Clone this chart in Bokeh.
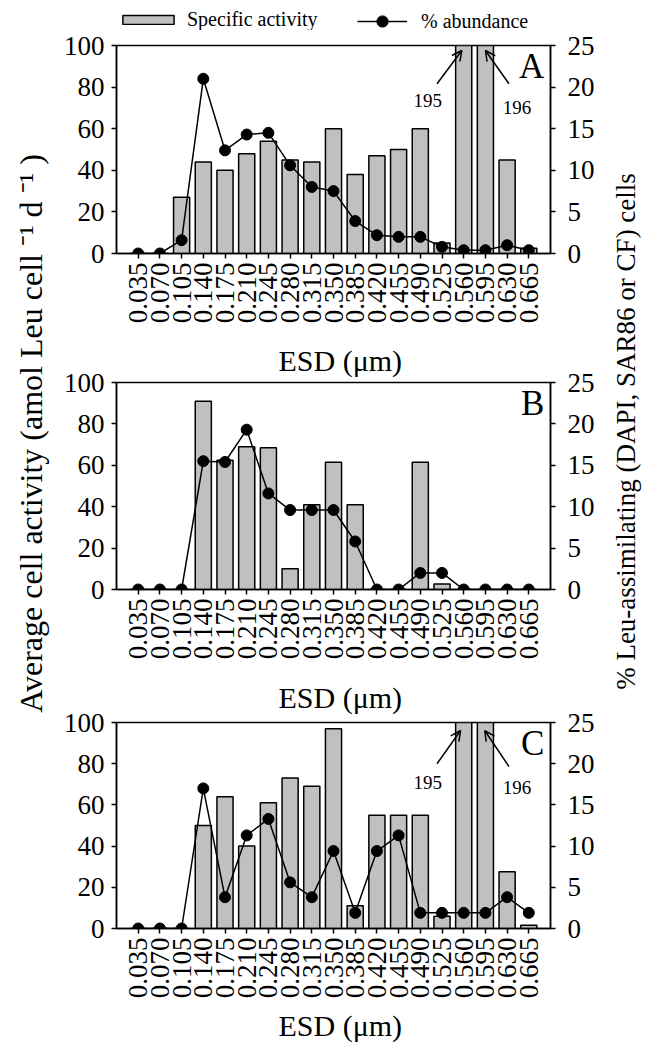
import math
from bokeh.plotting import figure
from bokeh.models import (Range1d, LinearAxis, FixedTicker, PrintfTickFormatter,
                          Legend, LegendItem, Label, Arrow, OpenHead, Title)
from bokeh.layouts import row, column
from bokeh.embed import file_html
from bokeh.resources import INLINE

FONT = "Liberation Serif"

# ---------------- data ----------------
esd = [0.035, 0.070, 0.105, 0.140, 0.175, 0.210, 0.245, 0.280, 0.315, 0.350,
       0.385, 0.420, 0.455, 0.490, 0.525, 0.560, 0.595, 0.630, 0.665]

activity_A = [0, 0, 27, 44, 40, 48, 54, 45, 44, 60, 38, 47, 50, 60, 5, 195, 196, 45, 2.5]
abundance_A = [0, 0, 1.6, 21, 12.4, 14.3, 14.5, 10.6, 8.0, 7.5, 3.9, 2.2, 2.0, 2.0, 0.8, 0.4, 0.4, 1.0, 0.4]

activity_B = [0, 0, 0, 91, 62.5, 69, 68.5, 10, 41, 61.5, 41, 0, 0, 61.5, 2.6, 0, 0, 0, 0]
abundance_B = [0, 0, 0, 15.5, 15.4, 19.3, 11.6, 9.6, 9.6, 9.6, 5.8, 0, 0, 2.0, 2.0, 0, 0, 0, 0]

activity_C = [0, 0, 0, 50, 64, 40, 61, 73, 69, 97, 11, 55, 55, 55, 6, 195, 196, 27.6, 1.6]
abundance_C = [0, 0, 0, 17, 3.8, 11.3, 13.3, 5.6, 3.8, 9.4, 1.9, 9.4, 11.3, 1.9, 1.9, 1.9, 1.9, 3.8, 1.9]

left_ticks = [0, 20, 40, 60, 80, 100]
right_ticks = [0, 5, 10, 15, 20, 25]

legend_labels = ["Specific activity", "% abundance"]
x_title = "ESD (\u03bcm)"
left_title = "Average cell activity (amol Leu cell \u207b\u00b9 d \u207b\u00b9 )"
right_title = "% Leu-assimilating (DAPI, SAR86 or CF) cells"

TOTAL_H = 1044
PANEL_W = 542
LEGEND_H = 30

BAR_STYLE = dict(fill_color="#c0c0c0", line_color="black", line_width=1.5)
LINE_STYLE = dict(line_color="black", line_width=1.5)
DOT_STYLE = dict(size=11, fill_color="black", line_color="black")


def style_axis(ax, size, standoff):
    ax.axis_line_color = "black"
    ax.axis_line_width = 1.5
    ax.major_tick_line_color = "black"
    ax.major_tick_line_width = 1.5
    ax.major_tick_in = 0
    ax.major_tick_out = 5
    ax.minor_tick_line_color = None
    ax.major_label_text_font = FONT
    ax.major_label_text_font_size = size
    ax.major_label_text_color = "black"
    ax.major_label_standoff = standoff


def x_title_obj(standoff):
    return Title(text=x_title, align="left", offset=162, text_font=FONT,
                 text_font_size="30px", text_font_style="normal",
                 text_color="black", standoff=standoff)


def panel(activity, abundance, letter, top_b, frame_h, bottom_b,
          notes=None, above_standoff=None, below_standoff=None):
    p = figure(frame_width=434, frame_height=frame_h,
               x_range=Range1d(0, 0.7), y_range=Range1d(0, 100),
               output_backend="svg", toolbar_location=None,
               min_border_left=58, min_border_right=50,
               min_border_top=top_b, min_border_bottom=bottom_b)
    p.extra_y_ranges = {"pct": Range1d(0, 25)}
    p.grid.visible = False
    p.outline_line_color = "black"
    p.outline_line_width = 1.5
    p.background_fill_color = "white"

    p.vbar(x=esd, top=activity, bottom=0, width=0.026, **BAR_STYLE)
    p.line(esd, abundance, y_range_name="pct", **LINE_STYLE)
    p.scatter(esd, abundance, y_range_name="pct", **DOT_STYLE)

    xa = p.xaxis[0]
    xa.ticker = FixedTicker(ticks=esd)
    xa.formatter = PrintfTickFormatter(format="%.3f")
    xa.major_label_orientation = math.pi / 2
    style_axis(xa, "27px", 4)

    ya = p.yaxis[0]
    ya.ticker = FixedTicker(ticks=left_ticks)
    style_axis(ya, "27px", 7)

    ra = LinearAxis(y_range_name="pct", ticker=FixedTicker(ticks=right_ticks))
    style_axis(ra, "27px", 12)
    p.add_layout(ra, "right")

    if above_standoff is not None:
        # x-axis title of the panel above, drawn in this panel's top border
        p.add_layout(x_title_obj(above_standoff), "above")
    if below_standoff is not None:
        p.add_layout(x_title_obj(below_standoff), "below")

    p.add_layout(Label(x=0.69, y=99.5, text=letter, text_align="right", text_baseline="top",
                       text_font=FONT, text_font_size="35px", text_color="black"))

    if notes:
        for (tx, ty, txt, x0, y0, x1, y1) in notes:
            p.add_layout(Label(x=tx, y=ty, text=txt, text_align="center", text_baseline="middle",
                               text_font=FONT, text_font_size="19px", text_color="black"))
            p.add_layout(Arrow(x_start=x0, y_start=y0, x_end=x1, y_end=y1,
                               line_color="black", line_width=1.5,
                               end=OpenHead(size=10, line_color="black", line_width=1.5)))
    return p


def legend_fig():
    f = figure(width=PANEL_W, height=LEGEND_H, x_range=Range1d(0, 0.7),
               y_range=Range1d(1000, 1001),
               output_backend="svg", toolbar_location=None, min_border=0,
               x_axis_location=None, y_axis_location=None)
    f.grid.visible = False
    f.outline_line_color = None
    # hidden proxy renderers that only lend their styles to the legend
    b = f.vbar(x=esd, top=activity_A, width=0.026, visible=False, **BAR_STYLE)
    l = f.line(x=esd, y=abundance_A, visible=False, **LINE_STYLE)
    s = f.scatter(x=esd, y=abundance_A, visible=False, **DOT_STYLE)
    common = dict(padding=0, margin=0, label_height=20,
                  label_text_font=FONT, label_text_font_size="20px",
                  label_text_color="black", inactive_fill_alpha=0,
                  background_fill_alpha=0, border_line_alpha=0)
    f.add_layout(Legend(items=[LegendItem(label=legend_labels[0], renderers=[b])],
                        location=(0, -1), glyph_width=64, glyph_height=11,
                        label_standoff=7, **common))
    f.add_layout(Legend(items=[LegendItem(label=legend_labels[1], renderers=[l, s])],
                        location=(241, -5), glyph_width=50, glyph_height=28,
                        label_standoff=14, **common))
    return f


notes_A = [(0.502, 73.6, "195", 0.517, 81.6, 0.557, 97.6),
           (0.646, 70.3, "196", 0.633, 81.6, 0.595, 97.6)]
notes_C = [(0.502, 71.0, "195", 0.517, 80.0, 0.555, 96.1),
           (0.646, 68.6, "196", 0.633, 78.6, 0.594, 96.1)]

pL = legend_fig()
pA = panel(activity_A, abundance_A, "A", 45 - LEGEND_H, 208, 80, notes=notes_A)
pB = panel(activity_B, abundance_B, "B", 49, 207, 80, above_standoff=11)
pC = panel(activity_C, abundance_C, "C", 53, 206, 116, notes=notes_C,
           above_standoff=18, below_standoff=10)


def title_fig(w, x, yc, text, size):
    f = figure(width=w, height=TOTAL_H, x_range=Range1d(0, w), y_range=Range1d(0, TOTAL_H),
               output_backend="svg", toolbar_location=None, min_border=0,
               x_axis_location=None, y_axis_location=None)
    f.grid.visible = False
    f.outline_line_color = None
    f.add_layout(Label(x=x, y=TOTAL_H - yc, text=text, angle=math.pi / 2,
                       text_align="center", text_baseline="middle",
                       text_font=FONT, text_font_size=size, text_color="black"))
    return f


left = title_fig(58, 30, 433, left_title, "32px")
right = title_fig(49, 25, 431, right_title, "27px")

layout = row(left, column(pL, pA, pB, pC), right)

open("out.html", "w").write(file_html(layout, INLINE))
